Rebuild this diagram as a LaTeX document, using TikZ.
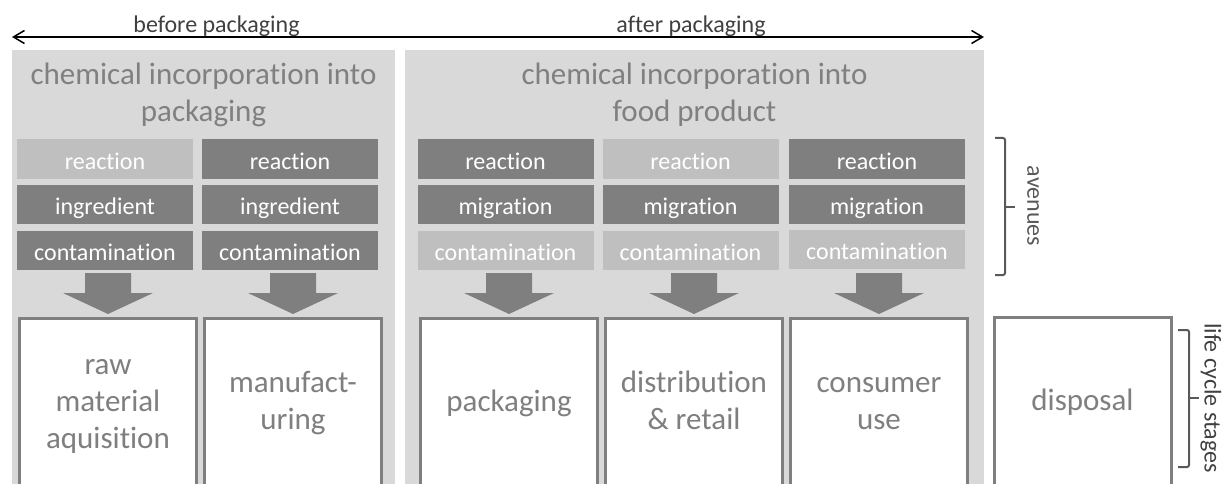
\documentclass[tikz,border=0pt]{standalone}
\usepackage{fontspec}
\setmainfont{Carlito}[Ligatures={TeX,NoCommon,NoContextual}]
\usetikzlibrary{arrows.meta}
\definecolor{panelgray}{HTML}{D9D9D9}
\definecolor{darkbox}{HTML}{7F7F7F}
\definecolor{lightbox}{HTML}{BFBFBF}
\definecolor{txtgray}{HTML}{808080}
\definecolor{labelgray}{HTML}{404040}
\definecolor{bracegray}{HTML}{595959}
\begin{document}
\begin{tikzpicture}[x=1pt,y=-1pt,
  panel/.style={fill=panelgray, draw=none, inner sep=0pt, anchor=north west},
  avbox/.style={minimum width=176pt, minimum height=39pt, inner sep=0pt, text=white,
    font=\fontsize{24}{29}\selectfont, text height=22pt, text depth=2pt},
  dark/.style={avbox, fill=darkbox},
  light/.style={avbox, fill=lightbox},
  stage/.style={draw=darkbox, line width=3pt, fill=white, minimum width=177pt,
    minimum height=171pt, inner sep=0pt, align=center, text=darkbox,
    font=\fontsize{31}{37}\selectfont},
  header/.style={align=center, text=txtgray, font=\fontsize{31}{37}\selectfont, inner sep=0pt},
  toplabel/.style={text=labelgray, font=\fontsize{24}{29}\selectfont, inner sep=0pt, anchor=base},
  brace/.style={draw=bracegray, line width=2pt, rounded corners=2pt},
  sidelabel/.style={rotate=-90, font=\fontsize{24}{29}\selectfont, inner sep=0pt},
  blockarrow/.pic={\fill[darkbox] (-23,-41) -- (23,-41) -- (23,-21) -- (45,-21)
    -- (0,0) -- (-45,-21) -- (-23,-21) -- cycle;}
]
\useasboundingbox (0,0) rectangle (1231,484);
\clip (0,0) rectangle (1231,484);

% top arrow
\coordinate (tl) at (12,37);
\coordinate (tr) at (984,37);
\draw[line width=1.5pt, {Straight Barb[length=11pt,width=13pt]}-{Straight Barb[length=11pt,width=13pt]}] (tl) -- (tr);
\node[toplabel] (before) at (216.5,33) {before packaging};
\node[toplabel] (after) at (691,33) {after packaging};

% panels
\node[panel, minimum width=383pt, minimum height=440pt] (p1) at (12,50) {};
\node[panel, minimum width=579pt, minimum height=440pt] (p2) at (405,50) {};
\node[header] (h1) at (203.5,96) {\strut chemical incorporation into\\\strut packaging};
\node[header] (h2) at (694.5,96) {\strut chemical incorporation into\\\strut food product};

% avenues, left panel
\node[light] (a11) at (105,159) {reaction};
\node[dark]  (a12) at (105,204.5) {ingredient};
\node[dark]  (a13) at (105,250.5) {contamination};
\node[dark]  (a21) at (290,159) {reaction};
\node[dark]  (a22) at (290,204.5) {ingredient};
\node[dark]  (a23) at (290,250.5) {contamination};
% avenues, right panel
\node[dark]  (a31) at (505.5,159) {reaction};
\node[dark]  (a32) at (505.5,204.5) {migration};
\node[light] (a33) at (505.5,250.5) {contamination};
\node[light] (a41) at (690.5,159) {reaction};
\node[dark]  (a42) at (690.5,204.5) {migration};
\node[light] (a43) at (690.5,250.5) {contamination};
\node[dark]  (a51) at (877,159) {reaction};
\node[dark]  (a52) at (877,204.5) {migration};
\node[light] (a53) at (877,249.5) {contamination};

% life cycle stages
\node[stage] (s1) at (108,404) {\strut raw\\\strut material\\\strut aquisition};
\node[stage] (s2) at (293,404) {\strut manufact-\\\strut uring};
\node[stage] (s3) at (509,404) {\strut packaging};
\node[stage] (s4) at (694,404) {\strut distribution\\\strut \& retail};
\node[stage] (s5) at (879,404) {\strut consumer\\\strut use};
\node[stage] (s6) at (1082.5,403) {\strut disposal};

% block arrows
\foreach \s in {s1,s2,s3,s4,s5}
  \pic at ([yshift=3pt]\s.north) {blockarrow};

% braces
\draw[brace] (995,138) -- (1005,138) -- (1005,275) -- (995,275);
\draw[brace] (1005,207) -- (1015,207);
\node[sidelabel, text=bracegray] (av) at (1033,206) {avenues};
\draw[brace] (1178,330) -- (1189,330) -- (1189,467) -- (1178,467);
\draw[brace] (1189,398) -- (1199,398);
\node[sidelabel, text=labelgray] (lc) at (1211,398) {life cycle stages};
\end{tikzpicture}
\end{document}
